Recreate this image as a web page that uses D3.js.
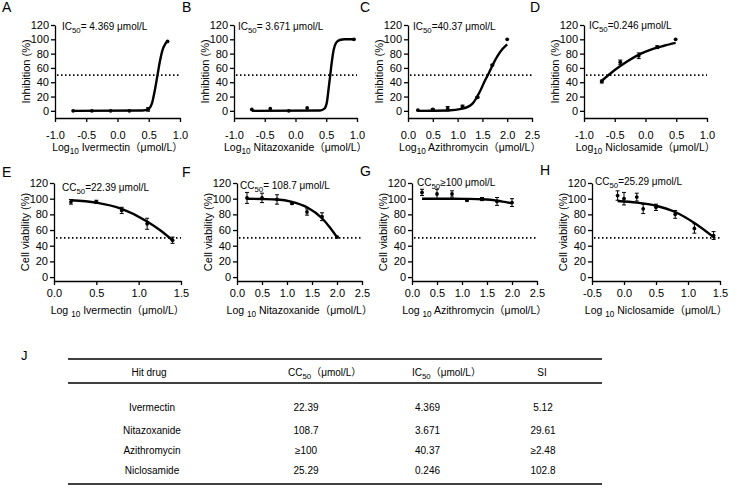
<!DOCTYPE html>
<html>
<head>
<meta charset="utf-8">
<script src="https://cdn.jsdelivr.net/npm/d3@7"></script>
<style>
body { margin: 0; background: #fff; }
svg { font-family: "Liberation Sans", Arial, "Noto Sans CJK SC", sans-serif; }
.tick text { font-size: 11px; fill: #000; }
.domain, .tick line { stroke: #000; stroke-width: 1.3; }
</style>
</head>
<body>
<svg id="fig" width="743" height="489"></svg>
<script>
// values
const drugs = ["Ivermectin", "Nitazoxanide", "Azithromycin", "Niclosamide"];
const yTicks = [0, 20, 40, 60, 80, 100, 120];

// inhibition (%) vs log10 dose, top row
const doseA = [-0.71, -0.41, -0.11, 0.19, 0.49, 0.80];
const inhA = [0, 0, 0, 0, 2, 97];
const errA = [0, 0, 0, 0, 2.5, 0];
const fitA = [[-0.71, 0], [0.40, 0.5], [0.50, 3], [0.55, 10], [0.60, 30], [0.64, 50], [0.68, 70], [0.72, 85], [0.76, 93], [0.80, 97]];

const doseB = [-0.71, -0.41, -0.11, 0.19, 0.95];
const inhB = [2, 3, 0, 4, 100];
const errB = [0, 0, 0, 0, 0];
const fitB = [[-0.71, 0], [0.40, 0.5], [0.47, 3], [0.51, 12], [0.54, 32], [0.565, 50], [0.59, 68], [0.62, 85], [0.66, 95], [0.72, 99], [0.80, 100], [0.95, 100]];

const doseC = [0.2, 0.5, 0.8, 1.1, 1.4, 1.7, 2.0];
const inhC = [1, 2, 3, 6, 19, 64, 100];
const errC = [0, 1, 3, 2, 1, 1, 0];
const fitC = [[0.2, 0], [0.8, 0.5], [1.1, 3], [1.3, 10], [1.45, 27], [1.55, 42], [1.61, 50], [1.7, 63], [1.8, 76], [1.9, 86], [2.0, 93]];

const doseD = [-0.71, -0.41, -0.11, 0.19, 0.49];
const inhD = [41, 68, 77, 89, 100];
const errD = [2, 3, 4, 2, 0];
const fitD = [[-0.71, 42], [-0.5, 57], [-0.3, 69], [-0.1, 79], [0.1, 86], [0.3, 91], [0.49, 95]];

// cell viability (%) vs log10 dose, bottom row
const doseE = [0.2, 0.5, 0.8, 1.1, 1.4];
const viaE = [96, 96, 85, 68, 47];
const errE = [3, 2, 4, 7, 4];
const fitE = [[0.2, 98], [0.5, 95], [0.8, 87], [1.1, 71], [1.25, 60], [1.4, 47]];

const doseF = [0.2, 0.5, 0.8, 1.1, 1.4, 1.7, 2.0];
const viaF = [101, 101, 99, 94, 83, 77, 51];
const errF = [7, 6, 6, 1, 4, 5, 1];
const fitF = [[0.2, 100], [0.5, 99.6], [0.8, 99], [1.1, 96], [1.4, 89], [1.7, 75], [1.85, 64], [2.0, 51]];

const doseG = [0.2, 0.5, 0.8, 1.1, 1.4, 1.7, 2.0];
const viaG = [108, 106, 106, 98, 99.5, 96.5, 95];
const errG = [4, 6, 4, 1, 2, 5, 5];
const fitG = [[0.2, 100], [0.8, 100], [1.1, 99.8], [1.4, 99.2], [1.7, 97.5], [2.0, 94]];

const doseH = [-0.1, 0.0, 0.2, 0.3, 0.5, 0.8, 1.1, 1.4];
const viaH = [104, 100, 102, 87, 89, 80, 62, 53];
const errH = [6, 8, 5, 6, 4, 5, 6, 5];
const fitH = [[-0.1, 97], [0.2, 95], [0.5, 91], [0.8, 83], [1.1, 69], [1.4, 51]];

const icNotes = ["= 4.369 μmol/L", "= 3.671 μmol/L", "=40.37 μmol/L", "=0.246 μmol/L"];
const ccNotes = ["=22.39 μmol/L", "= 108.7 μmol/L", "≥100 μmol/L", "=25.29 μmol/L"];

// table J
const ccVals = ["22.39", "108.7", "≥100", "25.29"];
const icVals = ["4.369", "3.671", "40.37", "0.246"];
const siVals = ["5.12", "29.61", "≥2.48", "102.8"];

const svg = d3.select("#fig");

// text with a "50"/"10" subscript in it; parts: strings, or {sub: "..."}
function rich(g, x, y, parts, size, anchor) {
    const t = g.append("text")
        .attr("x", x).attr("y", y)
        .attr("font-size", size)
        .attr("text-anchor", anchor || "start");
    let down = false;
    parts.forEach(p => {
        const s = t.append("tspan");
        if (typeof p === "object") {
            s.text(p.sub).attr("font-size", size * 0.78).attr("dy", size * 0.32);
            down = true;
        } else {
            s.text(p);
            if (down) { s.attr("dy", -size * 0.32); down = false; }
        }
    });
    return t;
}

const topRow = {y0: 118, y1: 25, dom: [-10, 120], pad: 9, noteY: 30, titleY: 151, yTitle: "Inhibition (%)", kind: "IC", logSep: ""};
const botRow = {y0: 281, y1: 183, dom: [-5, 120], pad: 4, noteY: 188, titleY: 314, yTitle: "Cell viability (%)", kind: "CC", logSep: " "};

const panels = [
    {letter: "A", lx: 2, ly: 12, x0: 55, x1: 180, xd: [-1, 1], row: topRow, dose: doseA, val: inhA, err: errA, fit: fitA, drug: 0, note: icNotes[0], nx: 62, ny: 30},
    {letter: "B", lx: 182, ly: 12, x0: 234, x1: 357, xd: [-1, 1], row: topRow, dose: doseB, val: inhB, err: errB, fit: fitB, drug: 1, note: icNotes[1], nx: 238, ny: 30},
    {letter: "C", lx: 360, ly: 12, x0: 408, x1: 532, xd: [0, 2.5], row: topRow, dose: doseC, val: inhC, err: errC, fit: fitC, drug: 2, note: icNotes[2], nx: 413, ny: 30},
    {letter: "D", lx: 530, ly: 12, x0: 584, x1: 707, xd: [-1, 1], row: topRow, dose: doseD, val: inhD, err: errD, fit: fitD, drug: 3, note: icNotes[3], nx: 589, ny: 29},
    {letter: "E", lx: 2, ly: 177, x0: 54, x1: 181, xd: [0, 1.5], row: botRow, dose: doseE, val: viaE, err: errE, fit: fitE, drug: 0, note: ccNotes[0], nx: 62, ny: 191},
    {letter: "F", lx: 182, ly: 177, x0: 237, x1: 362, xd: [0, 2.5], row: botRow, dose: doseF, val: viaF, err: errF, fit: fitF, drug: 1, note: ccNotes[1], nx: 240, ny: 189},
    {letter: "G", lx: 360, ly: 176, x0: 412, x1: 537, xd: [0, 2.5], row: botRow, dose: doseG, val: viaG, err: errG, fit: fitG, drug: 2, note: ccNotes[2], nx: 417, ny: 186},
    {letter: "H", lx: 540, ly: 175, x0: 592, x1: 720, xd: [-0.5, 1.5], row: botRow, dose: doseH, val: viaH, err: errH, fit: fitH, drug: 3, note: ccNotes[3], nx: 595, ny: 185}
];

panels.forEach(p => {
    const g = svg.append("g");
    const r = p.row;
    const x = d3.scaleLinear().domain(p.xd).range([p.x0, p.x1]);
    const y = d3.scaleLinear().domain(r.dom).range([r.y0, r.y1]);

    // dotted 50 % line
    g.append("line")
        .attr("x1", x(p.xd[0]) + 2).attr("x2", x(p.xd[1]))
        .attr("y1", y(50)).attr("y2", y(50))
        .attr("stroke", "#000").attr("stroke-width", 1.6)
        .attr("stroke-dasharray", "1.5,2.5");

    const xAxis = d3.axisBottom(x)
        .tickValues(d3.range(p.xd[0], p.xd[1] + 0.001, 0.5))
        .tickFormat(d => d.toFixed(1))
        .tickSize(4).tickSizeOuter(0).tickPadding(r.pad);
    g.append("g").attr("transform", `translate(0,${r.y0})`).call(xAxis);

    const yAxis = d3.axisLeft(y).tickValues(yTicks)
        .tickSize(4).tickSizeOuter(0).tickPadding(2);
    g.append("g").attr("transform", `translate(${p.x0},0)`).call(yAxis);

    // fitted curve
    const line = d3.line().x(d => x(d[0])).y(d => y(d[1])).curve(d3.curveMonotoneX);
    g.append("path").datum(p.fit)
        .attr("d", line).attr("fill", "none")
        .attr("stroke", "#000").attr("stroke-width", 2.4);

    // points with error bars
    const pts = p.dose.map((d, i) => ({d: d, v: p.val[i], e: p.err[i]}));
    const eb = g.selectAll(".eb").data(pts.filter(d => d.e > 0)).enter().append("g")
        .attr("stroke", "#000").attr("stroke-width", 1);
    eb.append("line").attr("x1", d => x(d.d)).attr("x2", d => x(d.d))
        .attr("y1", d => y(d.v - d.e)).attr("y2", d => y(d.v + d.e));
    eb.append("line").attr("x1", d => x(d.d) - 2).attr("x2", d => x(d.d) + 2)
        .attr("y1", d => y(d.v - d.e)).attr("y2", d => y(d.v - d.e));
    eb.append("line").attr("x1", d => x(d.d) - 2).attr("x2", d => x(d.d) + 2)
        .attr("y1", d => y(d.v + d.e)).attr("y2", d => y(d.v + d.e));
    g.selectAll(".pt").data(pts).enter().append("circle")
        .attr("cx", d => x(d.d)).attr("cy", d => y(d.v)).attr("r", 1.9).attr("fill", "#000");

    // labels
    g.append("text").attr("x", p.lx).attr("y", p.ly).attr("font-size", 14).text(p.letter);
    rich(g, p.nx, p.ny, [r.kind, {sub: "50"}, p.note], 10);
    rich(g, (p.x0 + p.x1) / 2, r.titleY, ["Log" + r.logSep, {sub: "10"}, " " + drugs[p.drug] + "（μmol/L）"], 10.5, "middle");
    g.append("text")
        .attr("transform", `translate(${p.x0 - 25},${(r.y0 + r.y1) / 2}) rotate(-90)`)
        .attr("text-anchor", "middle").attr("font-size", 11)
        .text(r.yTitle);
});

// ---- table J ----
const tg = svg.append("g");
tg.append("text").attr("x", 21).attr("y", 360).attr("font-size", 13).text("J");
[359, 383, 484].forEach(yy => {
    tg.append("line").attr("x1", 68).attr("x2", 602).attr("y1", yy).attr("y2", yy)
        .attr("stroke", "#000").attr("stroke-width", 1.4);
});
tg.append("text").attr("x", 149).attr("y", 376).attr("font-size", 10).attr("text-anchor", "middle").text("Hit drug");
rich(tg, 288, 376, ["CC", {sub: "50"}, "（μmol/L）"], 10);
rich(tg, 412, 376, ["IC", {sub: "50"}, "（μmol/L）"], 10);
tg.append("text").attr("x", 542).attr("y", 376).attr("font-size", 10).attr("text-anchor", "middle").text("SI");

const rowY = [411, 434, 454, 474];
drugs.forEach((dname, i) => {
    tg.append("text").attr("x", 152).attr("y", rowY[i]).attr("font-size", 10).attr("text-anchor", "middle").text(dname);
    tg.append("text").attr("x", 306).attr("y", rowY[i]).attr("font-size", 10).attr("text-anchor", "middle").text(ccVals[i]);
    tg.append("text").attr("x", 415).attr("y", rowY[i]).attr("font-size", 10).text(icVals[i]);
    tg.append("text").attr("x", 543).attr("y", rowY[i]).attr("font-size", 10).attr("text-anchor", "middle").text(siVals[i]);
});
</script>
</body>
</html>
